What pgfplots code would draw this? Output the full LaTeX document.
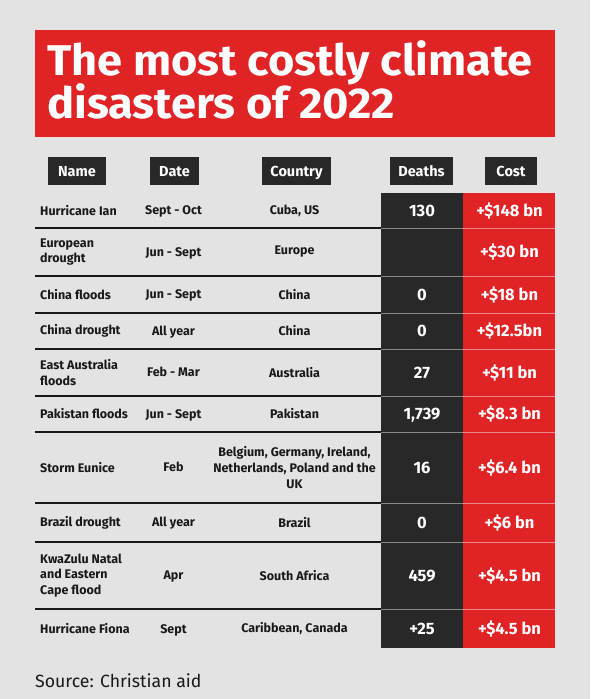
\documentclass[border=0pt]{standalone}
\usepackage{pgfplots}
\pgfplotsset{compat=1.18}
\usepackage{fontspec}
\setmainfont{Fira Sans}
\definecolor{bg}{RGB}{227,227,227}
\definecolor{redc}{RGB}{224,35,37}
\definecolor{darkc}{RGB}{40,40,40}
\definecolor{txt}{RGB}{25,25,25}
\tikzset{capc/.style={text height=#1,text depth=0pt}}
\begin{document}
\begin{tikzpicture}
\begin{axis}[x=1pt,y=1pt,y dir=reverse,xmin=0,xmax=590,ymin=0,ymax=699,
  hide axis,clip=false,
  txtplot/.style={only marks,mark=*,mark size=0pt,mark options={draw=none,fill=none},
    nodes near coords,point meta=explicit symbolic}]
% background
\fill[bg] (axis cs:0,0) rectangle (axis cs:590,699);
% title box
\fill[redc] (axis cs:35,30) rectangle (axis cs:555,137);
\node[anchor=base west,inner sep=0pt,xscale=1.05,text=white,font=\fontsize{43}{46}\selectfont\bfseries] at (axis cs:47,75) {The most costly climate};
\node[anchor=base west,inner sep=0pt,xscale=1.05,text=white,font=\fontsize{43}{46}\selectfont\bfseries] at (axis cs:47,118) {disasters of 2022};
% header boxes
\fill[darkc] (axis cs:48,157) rectangle (axis cs:106,185);
\fill[darkc] (axis cs:150,157) rectangle (axis cs:199,185);
\fill[darkc] (axis cs:262,157) rectangle (axis cs:331,185);
\fill[darkc] (axis cs:390,157) rectangle (axis cs:453,185);
\fill[darkc] (axis cs:485,157) rectangle (axis cs:537,185);
% value columns
\fill[darkc] (axis cs:381,193) rectangle (axis cs:463,648);
\fill[redc] (axis cs:463,193) rectangle (axis cs:555,648);
% row separators
\pgfplotsinvokeforeach{228,276,313,349,396,432,503,542,609}{
  \draw[txt,line width=1.6pt] (axis cs:35,#1) -- (axis cs:381,#1);
  \draw[white,opacity=0.45,line width=0.9pt] (axis cs:381,#1) -- (axis cs:555,#1);
}
% header texts
\addplot[txtplot,nodes near coords style={anchor=center,capc=10pt,inner sep=0pt,text=white,font=\fontsize{14.5}{16}\selectfont\bfseries}]
coordinates {(77,171) [Name] (174.5,171) [Date] (296.5,171) [Country] (421.5,171) [Deaths] (511,171) [Cost]};
% names
\addplot[txtplot,nodes near coords style={anchor=west,align=left,inner sep=0pt,text=txt,font=\fontsize{12.5}{15.7}\selectfont\bfseries}]
coordinates {(40,210.5) [Hurricane Ian] (40,252) [European\\drought] (40,294.5) [China floods]
 (40,331) [China drought] (40,372.5) [East Australia\\floods] (40,414) [Pakistan floods]
 (40,467.5) [Storm Eunice] (40,522.5) [Brazil drought] (40,575.5) [KwaZulu Natal\\and Eastern\\Cape flood]
 (40,629) [Hurricane Fiona]};
% dates
\addplot[txtplot,nodes near coords style={anchor=center,capc=8.6pt,inner sep=0pt,text=txt,font=\fontsize{12.5}{15.7}\selectfont\bfseries}]
coordinates {(173.5,210.5) [Sept - Oct] (173.5,252) [Jun - Sept] (173.5,294.5) [Jun - Sept]
 (173.5,331) [All year] (173.5,372.5) [Feb - Mar] (173.5,414) [Jun - Sept]
 (173.5,467.5) [Feb] (173.5,522.5) [All year] (173.5,575.5) [Apr] (173.5,629) [Sept]};
% countries
\addplot[txtplot,nodes near coords style={anchor=center,align=center,inner sep=0pt,text=txt,font=\fontsize{12.5}{15.7}\selectfont\bfseries}]
coordinates {(294.5,210.5) [Cuba, US] (294.5,252) [Europe] (294.5,294.5) [China]
 (294.5,331) [China] (294.5,372.5) [Australia] (294.5,414) [Pakistan]
 (294.5,467.5) [Belgium, Germany, Ireland,\\Netherlands, Poland and the\\UK] (294.5,522.5) [Brazil]
 (294.5,575.5) [South Africa] (294.5,629) [Caribbean, Canada]};
% deaths
\addplot[txtplot,nodes near coords style={anchor=center,capc=11.4pt,inner sep=0pt,text=white,font=\fontsize{16.5}{18}\selectfont\bfseries}]
coordinates {(422,210.5) [130] (422,294.5) [0] (422,331) [0] (422,372.5) [27] (422,414) [1,739]
 (422,467.5) [16] (422,522.5) [0] (422,575.5) [459] (422,629) [+25]};
% cost
\addplot[txtplot,nodes near coords style={anchor=center,capc=11.4pt,inner sep=0pt,text=white,font=\fontsize{16.5}{18}\selectfont\bfseries}]
coordinates {(509.5,210.5) [+\$148 bn] (509.5,252) [+\$30 bn] (509.5,294.5) [+\$18 bn]
 (509.5,331) [+\$12.5bn] (509.5,372.5) [+\$11 bn] (509.5,414) [+\$8.3 bn]
 (509.5,467.5) [+\$6.4 bn] (509.5,522.5) [+\$6 bn] (509.5,575.5) [+\$4.5 bn] (509.5,629) [+\$4.5 bn]};
% source
\node[anchor=base west,inner sep=0pt,text=txt,font=\fontsize{17.7}{21}\selectfont] at (axis cs:35,687) {Source: Christian aid};
\end{axis}
\end{tikzpicture}
\end{document}
